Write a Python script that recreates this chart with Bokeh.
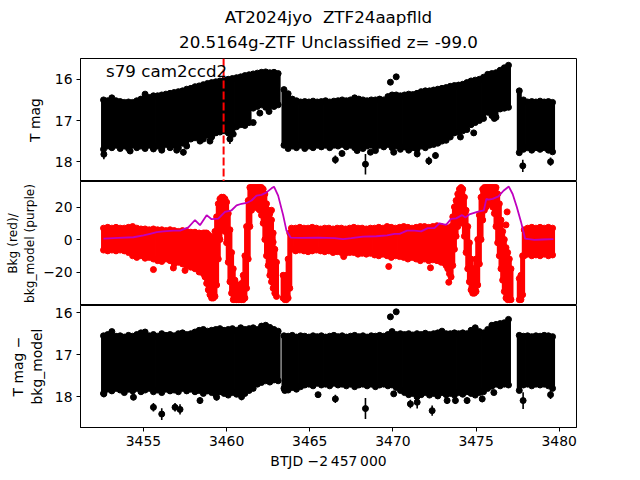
from bokeh.plotting import figure
from bokeh.models import Range1d, FixedTicker, Span, Label, Title
from bokeh.layouts import column
from bokeh.embed import file_html
from bokeh.resources import INLINE

# ---------------- data ----------------
title_line1 = "AT2024jyo  ZTF24aapflld"
title_line2 = "20.5164g-ZTF Unclassified z= -99.0"
sector_text = "s79 cam2ccd2"
event_time = 3459.82

x_ticks = [3455, 3460, 3465, 3470, 3475, 3480]
mag_ticks = [16, 17, 18]
bkg_ticks = [-20, 0, 20]
bkg_tick_labels = {-20: "\u221220", 0: "0", 20: "20"}

# binned light curve: time of bin, brightest and faintest magnitude in bin
bin_t = [3452.60, 3452.85, 3453.10, 3453.35, 3453.60, 3453.85, 3454.10, 3454.35, 3454.60, 3454.85,
         3455.10, 3455.35, 3455.60, 3455.85, 3456.10, 3456.35, 3456.60, 3456.85, 3457.10, 3457.35,
         3457.60, 3457.85, 3458.10, 3458.35, 3458.60, 3458.85, 3459.10, 3459.35, 3459.60, 3459.85,
         3460.10, 3460.35, 3460.60, 3460.85, 3461.10, 3461.35, 3461.60, 3461.85, 3462.10, 3462.35,
         3462.60, 3462.85, 3463.10,
         3463.45, 3463.70, 3463.95, 3464.20, 3464.45, 3464.70, 3464.95, 3465.20, 3465.45, 3465.70,
         3465.95, 3466.20, 3466.45, 3466.70, 3466.95, 3467.20, 3467.45, 3467.70, 3467.95, 3468.20,
         3468.45, 3468.70, 3468.95, 3469.20, 3469.45, 3469.70, 3469.95, 3470.20, 3470.45, 3470.70,
         3470.95, 3471.20, 3471.45, 3471.70, 3471.95, 3472.20, 3472.45, 3472.70, 3472.95, 3473.20,
         3473.45, 3473.70, 3473.95, 3474.20, 3474.45, 3474.70, 3474.95, 3475.20, 3475.45, 3475.70,
         3475.95, 3476.20, 3476.45, 3476.70, 3476.95,
         3477.60, 3477.85, 3478.10, 3478.35, 3478.60, 3478.85, 3479.10, 3479.35, 3479.60]

tmag_hi = [16.50, 16.52, 16.45, 16.52, 16.54, 16.56, 16.55, 16.56, 16.52, 16.48,
           16.36, 16.44, 16.40, 16.40, 16.38, 16.36, 16.34, 16.32, 16.30, 16.28,
           16.24, 16.22, 16.18, 16.16, 16.13, 16.10, 16.08, 16.06, 16.04, 16.02,
           16.00, 15.98, 15.96, 15.94, 15.91, 15.89, 15.87, 15.85, 15.83, 15.82,
           15.84, 15.83, 15.86,
           16.25, 16.35, 16.48, 16.52, 16.55, 16.54, 16.55, 16.53, 16.55, 16.54,
           16.52, 16.55, 16.53, 16.52, 16.50, 16.52, 16.50, 16.45, 16.48, 16.50,
           16.52, 16.50, 16.50, 16.48, 16.50, 16.42, 16.38, 16.38, 16.40, 16.38,
           16.36, 16.37, 16.34, 16.30, 16.28, 16.28, 16.26, 16.24, 16.22, 16.20,
           16.17, 16.15, 16.14, 16.12, 16.08, 16.04, 16.02, 16.00, 15.95, 15.88,
           15.86, 15.84, 15.78, 15.72, 15.66,
           16.28, 16.50, 16.55, 16.54, 16.55, 16.53, 16.55, 16.54, 16.56]

tmag_lo = [17.70, 17.62, 17.66, 17.60, 17.68, 17.62, 17.68, 17.60, 17.66, 17.62,
           17.68, 17.60, 17.66, 17.62, 17.68, 17.58, 17.66, 17.60, 17.66, 17.55,
           17.62, 17.45, 17.42, 17.38, 17.45, 17.36, 17.40, 17.30, 17.28, 17.25,
           17.30, 17.20, 17.15, 17.10, 17.12, 17.05, 16.70, 16.66, 16.62, 16.68,
           16.64, 16.66, 16.62,
           17.60, 17.68, 17.62, 17.66, 17.60, 17.68, 17.62, 17.66, 17.60, 17.64,
           17.60, 17.66, 17.60, 17.62, 17.58, 17.64, 17.60, 17.66, 17.62, 17.68,
           17.62, 17.60, 17.66, 17.60, 17.64, 17.58, 17.66, 17.62, 17.70, 17.64,
           17.72, 17.66, 17.70, 17.62, 17.66, 17.60, 17.58, 17.55, 17.50, 17.48,
           17.40, 17.30, 17.28, 17.25, 17.22, 17.10, 17.05, 17.00, 16.95, 16.80,
           16.88, 16.92, 16.72, 16.70, 16.68,
           17.78, 17.70, 17.66, 17.72, 17.66, 17.70, 17.66, 17.72, 17.76]

dmag_hi = [16.55, 16.52, 16.45, 16.56, 16.55, 16.58, 16.54, 16.56, 16.52, 16.48,
           16.46, 16.55, 16.52, 16.56, 16.50, 16.54, 16.52, 16.55, 16.50, 16.48,
           16.52, 16.50, 16.46, 16.42, 16.40, 16.44, 16.42, 16.40, 16.38, 16.42,
           16.40, 16.38, 16.42, 16.36, 16.40, 16.38, 16.36, 16.40, 16.32, 16.30,
           16.35, 16.40, 16.44,
           16.55, 16.56, 16.54, 16.58, 16.55, 16.56, 16.58, 16.55, 16.57, 16.55,
           16.58, 16.56, 16.54, 16.57, 16.55, 16.58, 16.56, 16.54, 16.57, 16.55,
           16.58, 16.55, 16.56, 16.54, 16.56, 16.52, 16.45, 16.52, 16.50, 16.52,
           16.50, 16.53, 16.50, 16.52, 16.49, 16.52, 16.50, 16.48, 16.44, 16.50,
           16.50, 16.48, 16.50, 16.48, 16.50, 16.42, 16.36, 16.45, 16.48, 16.40,
           16.30, 16.28, 16.26, 16.24, 16.16,
           16.54, 16.56, 16.55, 16.57, 16.55, 16.56, 16.54, 16.55, 16.57]

dmag_lo = [17.92, 17.82, 17.86, 17.80, 17.84, 17.90, 17.82, 17.86, 17.80, 17.88,
           17.84, 17.80, 17.88, 17.84, 17.90, 17.82, 17.86, 17.84, 17.88, 17.80,
           17.86, 17.82, 17.88, 17.85, 17.92, 17.86, 17.90, 17.95, 17.88, 17.92,
           17.96, 17.90, 17.94, 17.88, 17.92, 17.85, 17.80, 17.70, 17.66, 17.62,
           17.65, 17.60, 17.62,
           17.80, 17.84, 17.78, 17.82, 17.76, 17.72, 17.70, 17.74, 17.68, 17.72,
           17.70, 17.74, 17.68, 17.72, 17.70, 17.74, 17.70, 17.76, 17.72, 17.70,
           17.74, 17.70, 17.76, 17.72, 17.70, 17.74, 17.72, 17.78, 17.85, 17.90,
           17.95, 17.92, 18.00, 17.95, 17.90, 17.96, 17.92, 17.98, 17.90, 17.95,
           17.92, 17.96, 17.90, 17.94, 17.88, 17.92, 17.96, 17.90, 17.88, 17.80,
           17.75, 17.70, 17.74, 17.70, 17.72,
           17.85, 17.72, 17.70, 17.74, 17.70, 17.72, 17.70, 17.74, 17.80]

# faint points with long error bars (T mag)
tdrip_t = [3452.62, 3455.60, 3456.10, 3457.40, 3458.40, 3460.20, 3460.40, 3462.55, 3466.54, 3466.94,
           3467.85, 3468.35, 3468.65, 3468.95, 3470.05, 3471.46, 3472.16, 3472.56, 3474.06, 3474.86,
           3476.10, 3477.81, 3479.48, 3454.20, 3457.00, 3459.00, 3461.60, 3462.00]
tdrip_m = [17.82, 17.69, 17.72, 17.77, 17.50, 17.45, 17.33, 16.78, 17.95, 17.80,
           17.73, 18.06, 17.77, 17.73, 17.77, 17.81, 17.98, 17.85, 17.40, 17.30,
           16.95, 18.10, 18.00, 17.74, 17.72, 17.50, 17.05, 16.82]
tdrip_e = [0.12, 0.06, 0.06, 0.08, 0.06, 0.12, 0.06, 0.05, 0.10, 0.06,
           0.06, 0.25, 0.06, 0.06, 0.05, 0.08, 0.10, 0.08, 0.06, 0.06,
           0.06, 0.15, 0.10, 0.06, 0.06, 0.06, 0.06, 0.05]

# faint points with long error bars (T mag - bkg_model)
ddrip_t = [3452.62, 3454.40, 3455.60, 3456.10, 3456.90, 3457.20, 3458.40, 3459.40, 3460.90, 3463.50,
           3465.50, 3466.54, 3468.35, 3470.05, 3471.05, 3471.46, 3472.36, 3473.26, 3473.76, 3474.46,
           3475.37, 3476.07, 3477.83, 3479.48]
ddrip_m = [17.93, 18.01, 18.25, 18.41, 18.25, 18.30, 18.09, 18.01, 18.00, 17.85,
           17.95, 18.05, 18.28, 17.93, 18.17, 18.13, 18.33, 18.09, 18.09, 18.09,
           18.05, 17.90, 18.09, 17.95]
ddrip_e = [0.08, 0.07, 0.10, 0.14, 0.10, 0.12, 0.08, 0.08, 0.08, 0.06,
           0.06, 0.10, 0.25, 0.06, 0.10, 0.15, 0.12, 0.08, 0.08, 0.08,
           0.08, 0.06, 0.20, 0.10]

# two bright outliers
out_t = [3469.85, 3470.20]
out_tmag = [16.07, 15.94]
out_dmag = [16.10, 15.98]

# background flux: time of bin, highest and lowest value in bin
bkg_t = [3452.60, 3452.85, 3453.10, 3453.35, 3453.60, 3453.85, 3454.10, 3454.35, 3454.60, 3454.85,
         3455.10, 3455.35, 3455.60, 3455.85, 3456.10, 3456.35, 3456.60, 3456.85, 3457.10, 3457.35,
         3457.60, 3457.85, 3458.10, 3458.35, 3458.60,
         3458.70, 3458.80, 3458.90, 3459.00, 3459.10, 3459.20, 3459.30, 3459.40, 3459.50, 3459.60,
         3459.70, 3459.80, 3459.90, 3460.00, 3460.10, 3460.20, 3460.30, 3460.40, 3460.50, 3460.60,
         3460.70, 3460.80, 3460.90, 3461.00, 3461.10, 3461.20, 3461.30, 3461.40, 3461.50, 3461.60,
         3461.70, 3461.80, 3461.90, 3462.00, 3462.10, 3462.20, 3462.30, 3462.40, 3462.50, 3462.60,
         3462.70, 3462.80, 3462.90, 3463.00,
         3463.40, 3463.50, 3463.60, 3463.70, 3463.80, 3463.90,
         3464.15, 3464.40, 3464.65, 3464.90, 3465.15, 3465.40, 3465.65, 3465.90, 3466.15, 3466.40,
         3466.65, 3466.90, 3467.15, 3467.40, 3467.65, 3467.90, 3468.15, 3468.40, 3468.65, 3468.90,
         3469.15, 3469.40, 3469.65, 3469.90, 3470.15, 3470.40, 3470.65, 3470.90, 3471.15, 3471.40,
         3471.65, 3471.90, 3472.15, 3472.40, 3472.65, 3472.90, 3473.15,
         3473.20, 3473.30, 3473.40, 3473.50, 3473.60, 3473.70, 3473.80, 3473.90, 3474.00, 3474.10,
         3474.20, 3474.30, 3474.40, 3474.50, 3474.60, 3474.70, 3474.80, 3474.90, 3475.00, 3475.10,
         3475.20, 3475.30, 3475.40, 3475.50, 3475.60, 3475.70, 3475.80, 3475.90, 3476.00, 3476.10,
         3476.20, 3476.30, 3476.40, 3476.50, 3476.60, 3476.70, 3476.80, 3476.90, 3477.00, 3477.10,
         3477.60, 3477.70, 3477.80, 3477.90,
         3478.10, 3478.35, 3478.60, 3478.85, 3479.10, 3479.35, 3479.60]

bkg_hi = [7.0, 7.5, 7.0, 7.5, 7.0, 7.0, 7.5, 8.0, 7.0, 6.5,
          6.5, 6.0, 6.5, 6.0, 6.0, 5.5, 6.0, 5.5, 5.0, 5.5,
          5.0, 4.5, 4.5, 4.0, 4.0,
          4, 4, 3, 2, 1, 0, 5, 14, 22, 25,
          26, 26, 25, 23, 16, 6, -8, -18, -25, -28,
          -28, -28, -27, -22, -10, 8, 24, 32, 32, 32,
          32, 32, 32, 32, 32, 31, 28, 22, 18, 16,
          12, 4, -6, -14,
          -22, -25, -22, -12, 4, 7,
          7.0, 7.5, 7.0, 7.0, 7.5, 7.0, 6.5, 7.0, 7.0, 6.5,
          7.0, 7.0, 6.5, 7.0, 7.5, 7.0, 7.0, 6.5, 7.0, 7.0,
          7.5, 7.0, 8.0, 7.5, 7.0, 7.5, 8.0, 7.5, 7.0, 7.5,
          8.0, 8.0, 7.5, 8.0, 8.5, 8.0, 7.5,
          7, 6, 5, 8, 14, 20, 24, 28, 31, 32,
          31, 26, 18, 8, -2, -12, -18, -18, -12, 0,
          15, 26, 31, 32, 32, 32, 32, 32, 32, 32,
          32, 28, 22, 12, 5, 0, -5, -8, -12, -18,
          -24, -22, -10, 6,
          7.0, 7.5, 7.0, 7.5, 7.0, 7.5, 7.0]

bkg_lo = [-6.5, -7.0, -6.5, -7.0, -6.5, -7.0, -8.0, -10.0, -11.0, -10.0,
          -11.5, -11.0, -12.0, -13.0, -13.5, -12.0, -13.0, -15.0, -14.0, -15.0,
          -16.0, -17.0, -18.0, -20.0, -21.0,
          -23, -27, -31, -34, -36, -36, -35, -28, -12, 0,
          6, 8, 5, -2, -14, -26, -33, -37, -37, -37,
          -37, -37, -37, -37, -36, -30, -12, 8, 18, 20,
          20, 20, 19, 18, 15, 10, 0, -10, -16, -22,
          -26, -30, -33, -35,
          -36, -37, -37, -36, -30, -6,
          -7.0, -6.5, -7.0, -7.5, -7.0, -6.5, -7.0, -7.5, -7.0, -8.0,
          -7.5, -8.0, -8.5, -8.0, -8.0, -9.0, -8.5, -9.0, -8.5, -9.5,
          -10.0, -9.0, -10.0, -11.0, -10.0, -10.5, -11.0, -12.0, -11.0, -12.0,
          -13.0, -12.0, -13.0, -12.5, -13.0, -14.0, -15.0,
          -16, -18, -21, -23, -16, -6, 2, 8, 12, 14,
          10, 2, -8, -18, -26, -31, -33, -33, -32, -28,
          -15, 0, 12, 18, 20, 22, 22, 22, 20, 16,
          8, -2, -10, -18, -25, -32, -36, -37, -37, -37,
          -37, -37, -34, -10,
          -9.0, -10.0, -9.5, -10.0, -9.0, -10.0, -9.5]

# isolated background points
rdot_t = [3455.60, 3456.80, 3457.50, 3462.70, 3462.80, 3467.04, 3469.75, 3472.26, 3473.36, 3476.87, 3476.80]
rdot_v = [-18.5, -17.5, -19.0, 18.0, -1.6, -10.5, -16.6, -17.4, -26.3, 17.0, 9.0]

# background model (purple line)
model_t = [3452.6, 3453.5, 3454.4, 3455.0, 3455.4, 3455.8, 3456.2, 3456.8, 3457.2, 3457.7,
           3458.1, 3458.4, 3458.8, 3459.1, 3459.5, 3459.9, 3460.3, 3460.6, 3460.9, 3461.2,
           3461.5, 3461.8, 3462.1, 3462.4, 3462.7, 3462.85, 3463.1, 3463.4, 3463.6, 3463.85,
           3464.5, 3465.5, 3466.5, 3467.0, 3467.5, 3468.2, 3469.0, 3469.65, 3470.1, 3470.4,
           3470.85, 3471.3, 3471.7, 3472.1, 3472.5, 3472.8, 3473.2, 3473.5, 3473.8, 3474.16,
           3474.36, 3474.6, 3475.07, 3475.47, 3475.62, 3475.75, 3476.0, 3476.35, 3476.65, 3476.97,
           3477.2, 3477.45, 3477.7, 3477.95, 3478.5, 3479.0, 3479.65]
model_v = [0.5, 1.0, 1.4, 2.5, 3.5, 4.5, 5.0, 5.5, 5.5, 7.5,
           12.0, 8.8, 15.0, 12.5, 12.8, 17.0, 18.0, 21.0, 22.0, 22.5,
           24.0, 27.0, 27.5, 29.0, 31.5, 32.5, 27.0, 15.0, 5.5, 1.2,
           1.0, 1.2, 0.8, 0.2, 0.8, 1.8, 2.0, 2.5, 3.5, 3.5,
           5.5, 5.5, 5.0, 7.0, 7.0, 10.0, 9.0, 12.7, 13.0, 15.0,
           13.5, 15.5, 17.0, 18.0, 25.0, 24.5, 25.0, 26.5, 30.0, 32.6,
           28.0, 20.0, 11.0, 0.5, -0.2, 0.0, 0.2]

# ---------------- drawing ----------------
FONT = "DejaVu Sans"
TICK_PX = "13.9px"
TITLE_PX = "16.7px"
W = 640
LEFT, RIGHT = 80, 64

x_range = Range1d(3451.215, 3481.04)


def make_panel(height, y_range, border_top, border_bottom, yticks, ylab, lab_standoff):
    p = figure(width=W, height=height, x_range=x_range, y_range=y_range,
               output_backend="svg", toolbar_location=None, title_location=None,
               min_border_left=LEFT, min_border_right=RIGHT,
               min_border_top=border_top, min_border_bottom=border_bottom)
    p.xgrid.grid_line_color = None
    p.ygrid.grid_line_color = None
    p.outline_line_color = "black"
    p.outline_line_alpha = 1.0
    p.outline_line_width = 1
    p.background_fill_color = "white"
    p.border_fill_color = "white"
    for ax in (p.xaxis[0], p.yaxis[0]):
        ax.axis_line_color = "black"
        ax.major_tick_line_color = "black"
        ax.major_tick_out = 4
        ax.major_tick_in = 0
        ax.minor_tick_line_color = None
        ax.major_label_text_font = FONT
        ax.major_label_text_font_size = TICK_PX
        ax.major_label_text_color = "black"
        ax.major_label_standoff = 4
        ax.axis_label_text_font = FONT
        ax.axis_label_text_font_size = TICK_PX
        ax.axis_label_text_font_style = "normal"
        ax.axis_label_text_color = "black"
        ax.axis_label_standoff = 4
    p.yaxis.ticker = FixedTicker(ticks=yticks)
    p.yaxis.axis_label = ylab
    p.yaxis.axis_label_standoff = lab_standoff
    return p


def band(p, t, hi, lo, color, width, size):
    p.segment(x0=t, y0=hi, x1=t, y1=lo, line_color=color, line_width=width)
    p.scatter(t, hi, size=size, color=color)
    p.scatter(t, lo, size=size, color=color)


def drips(p, t, m, e, color):
    p.segment(x0=t, y0=[a - b for a, b in zip(m, e)], x1=t,
              y1=[a + b for a, b in zip(m, e)], line_color=color, line_width=1.6)
    p.scatter(t, m, size=6, color=color)


# top panel: T mag
p1 = make_panel(181, Range1d(18.48, 15.495), 58, 0, mag_ticks, "T mag", 9)
p1.xaxis.visible = False
band(p1, bin_t, tmag_hi, tmag_lo, "black", 5, 6)
drips(p1, tdrip_t, tdrip_m, tdrip_e, "black")
p1.scatter(out_t, out_tmag, size=6, color="black")
p1.add_layout(Span(location=event_time, dimension="height", line_color="red",
                   line_width=2, line_dash="8 3"))
p1.add_layout(Label(x=3452.75, y=15.805, text=sector_text, text_font=FONT,
                    text_font_size=TITLE_PX, text_color="black",
                    text_baseline="alphabetic", text_align="left"))
p1.add_layout(Title(text=title_line2, align="center", text_font=FONT,
                    text_font_size=TITLE_PX, text_font_style="normal",
                    text_color="black", vertical_align="top", standoff=10), "above")
p1.add_layout(Title(text=title_line1.replace("  ", "\u00a0\u00a0"), align="center",
                    text_font=FONT, text_font_size=TITLE_PX, text_font_style="normal",
                    text_color="black", standoff=0), "above")

# middle panel: background
p2 = make_panel(124, Range1d(-40.6, 35.7), 0, 0, bkg_ticks,
                "Bkg (red)/\nbkg_model (purple)", 3)
p2.xaxis.visible = False
p2.yaxis.major_label_overrides = bkg_tick_labels
p2.yaxis.axis_label_text_font_size = "12.2px"
band(p2, bkg_t, bkg_hi, bkg_lo, "red", 5, 6)
p2.scatter(rdot_t, rdot_v, size=6, color="red")
p2.line(model_t, model_v, line_color="#bf00bf", line_width=1.8)

# bottom panel: T mag - bkg_model
p3 = make_panel(175, Range1d(18.73, 15.83), 0, 53, mag_ticks, "T mag \u2212\nbkg_model", 7)
p3.xaxis.ticker = FixedTicker(ticks=x_ticks)
p3.xaxis.axis_label = "BTJD \u22122\u2009457\u2009000"
p3.xaxis.axis_label_standoff = 4
band(p3, bin_t, dmag_hi, dmag_lo, "black", 5, 6)
drips(p3, ddrip_t, ddrip_m, ddrip_e, "black")
p3.scatter(out_t, out_dmag, size=6, color="black")

layout = column(p1, p2, p3, spacing=0)
open("out.html", "w").write(file_html(layout, INLINE))
